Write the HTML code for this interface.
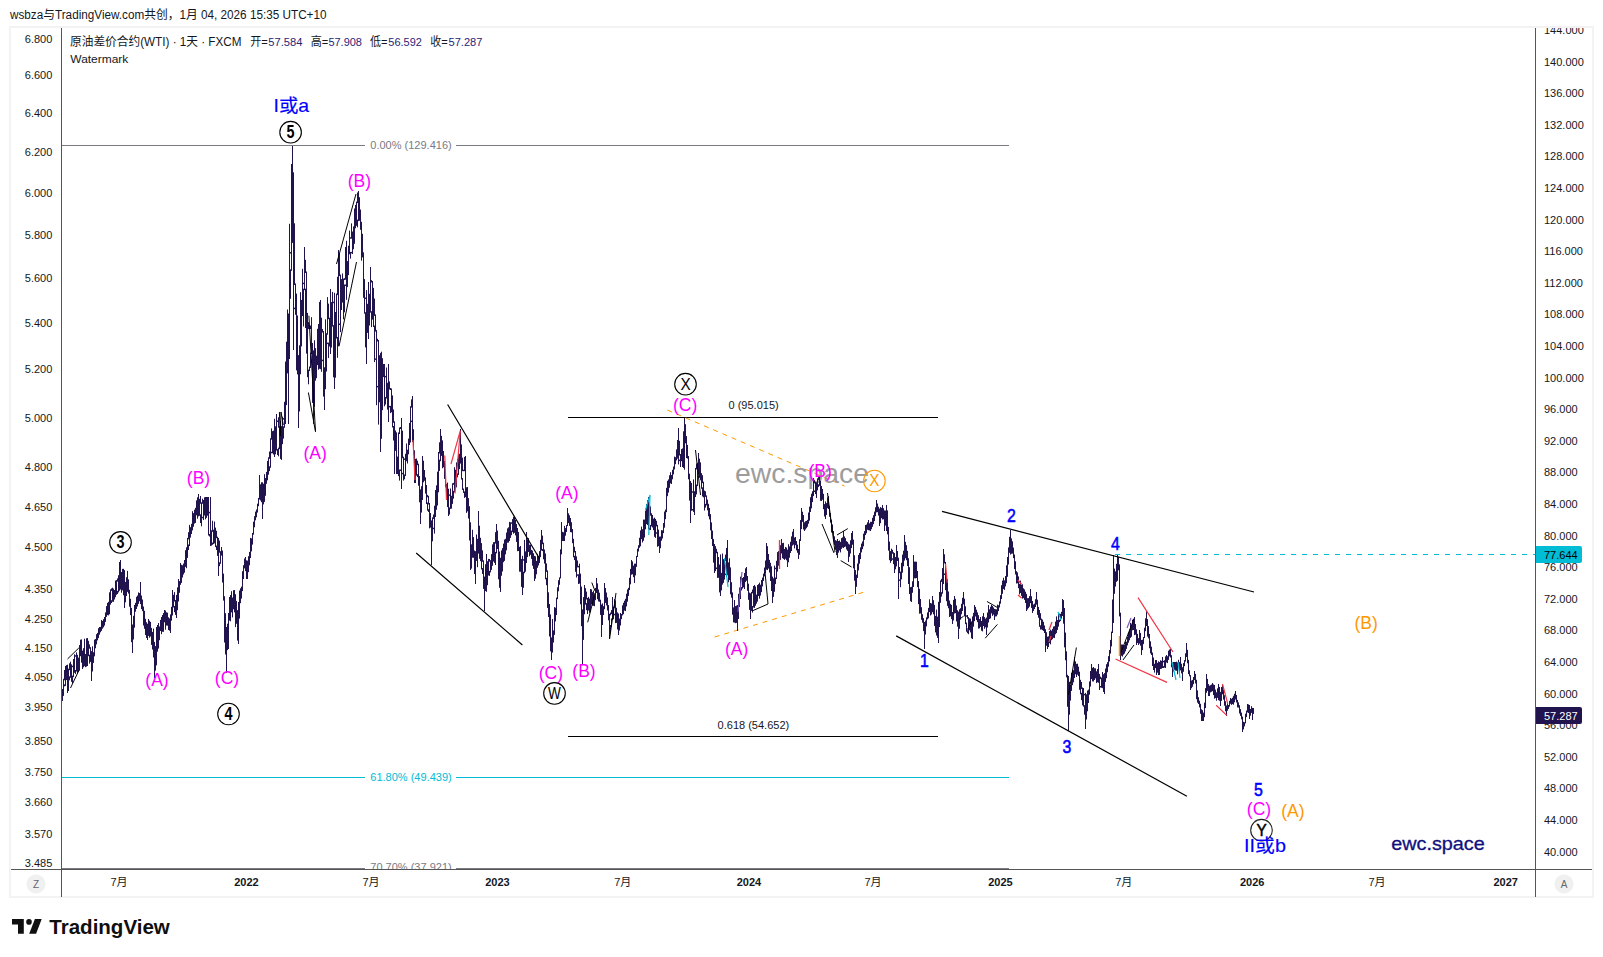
<!DOCTYPE html><html><head><meta charset="utf-8"><title>WTI</title><style>html,body{margin:0;padding:0;background:#fff;width:1603px;height:957px;overflow:hidden}svg text{white-space:pre}</style></head><body><svg width="1603" height="957" viewBox="0 0 1603 957" style="position:absolute;left:0;top:0"><text x="10" y="19" font-size="12" fill="#131722" textLength="316.5" lengthAdjust="spacingAndGlyphs" font-family="'Liberation Sans','Noto Sans CJK SC',sans-serif">wsbza与TradingView.com共创，1月 04, 2026 15:35 UTC+10</text><rect x="10" y="27" width="1583" height="870" fill="#fff" stroke="#f3f3f3" stroke-width="2"/><defs><clipPath id="pane"><rect x="62" y="28" width="1473" height="841"/></clipPath><clipPath id="raxis"><rect x="1536" y="28" width="56" height="841"/></clipPath></defs><line x1="61.5" y1="28" x2="61.5" y2="897" stroke="#555" stroke-width="1"/><line x1="1535.5" y1="28" x2="1535.5" y2="897" stroke="#555" stroke-width="1"/><line x1="11" y1="869.5" x2="1592" y2="869.5" stroke="#555" stroke-width="1"/><text x="52.3" y="43.0" font-size="11" text-anchor="end" fill="#131722" font-family="'Liberation Sans','Noto Sans CJK SC',sans-serif">6.800</text><text x="52.3" y="79.0" font-size="11" text-anchor="end" fill="#131722" font-family="'Liberation Sans','Noto Sans CJK SC',sans-serif">6.600</text><text x="52.3" y="117.0" font-size="11" text-anchor="end" fill="#131722" font-family="'Liberation Sans','Noto Sans CJK SC',sans-serif">6.400</text><text x="52.3" y="156.0" font-size="11" text-anchor="end" fill="#131722" font-family="'Liberation Sans','Noto Sans CJK SC',sans-serif">6.200</text><text x="52.3" y="197.0" font-size="11" text-anchor="end" fill="#131722" font-family="'Liberation Sans','Noto Sans CJK SC',sans-serif">6.000</text><text x="52.3" y="239.0" font-size="11" text-anchor="end" fill="#131722" font-family="'Liberation Sans','Noto Sans CJK SC',sans-serif">5.800</text><text x="52.3" y="282.0" font-size="11" text-anchor="end" fill="#131722" font-family="'Liberation Sans','Noto Sans CJK SC',sans-serif">5.600</text><text x="52.3" y="327.0" font-size="11" text-anchor="end" fill="#131722" font-family="'Liberation Sans','Noto Sans CJK SC',sans-serif">5.400</text><text x="52.3" y="373.3" font-size="11" text-anchor="end" fill="#131722" font-family="'Liberation Sans','Noto Sans CJK SC',sans-serif">5.200</text><text x="52.3" y="422.2" font-size="11" text-anchor="end" fill="#131722" font-family="'Liberation Sans','Noto Sans CJK SC',sans-serif">5.000</text><text x="52.3" y="471.4" font-size="11" text-anchor="end" fill="#131722" font-family="'Liberation Sans','Noto Sans CJK SC',sans-serif">4.800</text><text x="52.3" y="511.3" font-size="11" text-anchor="end" fill="#131722" font-family="'Liberation Sans','Noto Sans CJK SC',sans-serif">4.650</text><text x="52.3" y="551.0" font-size="11" text-anchor="end" fill="#131722" font-family="'Liberation Sans','Noto Sans CJK SC',sans-serif">4.500</text><text x="52.3" y="593.4" font-size="11" text-anchor="end" fill="#131722" font-family="'Liberation Sans','Noto Sans CJK SC',sans-serif">4.350</text><text x="52.3" y="622.5" font-size="11" text-anchor="end" fill="#131722" font-family="'Liberation Sans','Noto Sans CJK SC',sans-serif">4.250</text><text x="52.3" y="651.6" font-size="11" text-anchor="end" fill="#131722" font-family="'Liberation Sans','Noto Sans CJK SC',sans-serif">4.150</text><text x="52.3" y="681.0" font-size="11" text-anchor="end" fill="#131722" font-family="'Liberation Sans','Noto Sans CJK SC',sans-serif">4.050</text><text x="52.3" y="711.2" font-size="11" text-anchor="end" fill="#131722" font-family="'Liberation Sans','Noto Sans CJK SC',sans-serif">3.950</text><text x="52.3" y="744.6" font-size="11" text-anchor="end" fill="#131722" font-family="'Liberation Sans','Noto Sans CJK SC',sans-serif">3.850</text><text x="52.3" y="775.7" font-size="11" text-anchor="end" fill="#131722" font-family="'Liberation Sans','Noto Sans CJK SC',sans-serif">3.750</text><text x="52.3" y="805.8" font-size="11" text-anchor="end" fill="#131722" font-family="'Liberation Sans','Noto Sans CJK SC',sans-serif">3.660</text><text x="52.3" y="837.6" font-size="11" text-anchor="end" fill="#131722" font-family="'Liberation Sans','Noto Sans CJK SC',sans-serif">3.570</text><text x="52.3" y="867.0" font-size="11" text-anchor="end" fill="#131722" font-family="'Liberation Sans','Noto Sans CJK SC',sans-serif">3.485</text><g clip-path="url(#raxis)"><text x="1544" y="33.9" font-size="11" fill="#131722" font-family="'Liberation Sans','Noto Sans CJK SC',sans-serif">144.000</text><text x="1544" y="65.5" font-size="11" fill="#131722" font-family="'Liberation Sans','Noto Sans CJK SC',sans-serif">140.000</text><text x="1544" y="97.1" font-size="11" fill="#131722" font-family="'Liberation Sans','Noto Sans CJK SC',sans-serif">136.000</text><text x="1544" y="128.7" font-size="11" fill="#131722" font-family="'Liberation Sans','Noto Sans CJK SC',sans-serif">132.000</text><text x="1544" y="160.3" font-size="11" fill="#131722" font-family="'Liberation Sans','Noto Sans CJK SC',sans-serif">128.000</text><text x="1544" y="191.9" font-size="11" fill="#131722" font-family="'Liberation Sans','Noto Sans CJK SC',sans-serif">124.000</text><text x="1544" y="223.5" font-size="11" fill="#131722" font-family="'Liberation Sans','Noto Sans CJK SC',sans-serif">120.000</text><text x="1544" y="255.1" font-size="11" fill="#131722" font-family="'Liberation Sans','Noto Sans CJK SC',sans-serif">116.000</text><text x="1544" y="286.7" font-size="11" fill="#131722" font-family="'Liberation Sans','Noto Sans CJK SC',sans-serif">112.000</text><text x="1544" y="318.3" font-size="11" fill="#131722" font-family="'Liberation Sans','Noto Sans CJK SC',sans-serif">108.000</text><text x="1544" y="349.9" font-size="11" fill="#131722" font-family="'Liberation Sans','Noto Sans CJK SC',sans-serif">104.000</text><text x="1544" y="381.5" font-size="11" fill="#131722" font-family="'Liberation Sans','Noto Sans CJK SC',sans-serif">100.000</text><text x="1544" y="413.1" font-size="11" fill="#131722" font-family="'Liberation Sans','Noto Sans CJK SC',sans-serif">96.000</text><text x="1544" y="444.7" font-size="11" fill="#131722" font-family="'Liberation Sans','Noto Sans CJK SC',sans-serif">92.000</text><text x="1544" y="476.3" font-size="11" fill="#131722" font-family="'Liberation Sans','Noto Sans CJK SC',sans-serif">88.000</text><text x="1544" y="507.9" font-size="11" fill="#131722" font-family="'Liberation Sans','Noto Sans CJK SC',sans-serif">84.000</text><text x="1544" y="539.5" font-size="11" fill="#131722" font-family="'Liberation Sans','Noto Sans CJK SC',sans-serif">80.000</text><text x="1544" y="571.1" font-size="11" fill="#131722" font-family="'Liberation Sans','Noto Sans CJK SC',sans-serif">76.000</text><text x="1544" y="602.7" font-size="11" fill="#131722" font-family="'Liberation Sans','Noto Sans CJK SC',sans-serif">72.000</text><text x="1544" y="634.3" font-size="11" fill="#131722" font-family="'Liberation Sans','Noto Sans CJK SC',sans-serif">68.000</text><text x="1544" y="665.9" font-size="11" fill="#131722" font-family="'Liberation Sans','Noto Sans CJK SC',sans-serif">64.000</text><text x="1544" y="697.6" font-size="11" fill="#131722" font-family="'Liberation Sans','Noto Sans CJK SC',sans-serif">60.000</text><text x="1544" y="729.2" font-size="11" fill="#131722" font-family="'Liberation Sans','Noto Sans CJK SC',sans-serif">56.000</text><text x="1544" y="760.8" font-size="11" fill="#131722" font-family="'Liberation Sans','Noto Sans CJK SC',sans-serif">52.000</text><text x="1544" y="792.4" font-size="11" fill="#131722" font-family="'Liberation Sans','Noto Sans CJK SC',sans-serif">48.000</text><text x="1544" y="824.0" font-size="11" fill="#131722" font-family="'Liberation Sans','Noto Sans CJK SC',sans-serif">44.000</text><text x="1544" y="855.6" font-size="11" fill="#131722" font-family="'Liberation Sans','Noto Sans CJK SC',sans-serif">40.000</text></g><text x="119" y="886" font-size="11" font-weight="normal" text-anchor="middle" fill="#131722" font-family="'Liberation Sans','Noto Sans CJK SC',sans-serif">7月</text><text x="246.4" y="886" font-size="11" font-weight="bold" text-anchor="middle" fill="#131722" font-family="'Liberation Sans','Noto Sans CJK SC',sans-serif">2022</text><text x="371" y="886" font-size="11" font-weight="normal" text-anchor="middle" fill="#131722" font-family="'Liberation Sans','Noto Sans CJK SC',sans-serif">7月</text><text x="497.4" y="886" font-size="11" font-weight="bold" text-anchor="middle" fill="#131722" font-family="'Liberation Sans','Noto Sans CJK SC',sans-serif">2023</text><text x="622.8" y="886" font-size="11" font-weight="normal" text-anchor="middle" fill="#131722" font-family="'Liberation Sans','Noto Sans CJK SC',sans-serif">7月</text><text x="748.9" y="886" font-size="11" font-weight="bold" text-anchor="middle" fill="#131722" font-family="'Liberation Sans','Noto Sans CJK SC',sans-serif">2024</text><text x="873" y="886" font-size="11" font-weight="normal" text-anchor="middle" fill="#131722" font-family="'Liberation Sans','Noto Sans CJK SC',sans-serif">7月</text><text x="1000.4" y="886" font-size="11" font-weight="bold" text-anchor="middle" fill="#131722" font-family="'Liberation Sans','Noto Sans CJK SC',sans-serif">2025</text><text x="1123.8" y="886" font-size="11" font-weight="normal" text-anchor="middle" fill="#131722" font-family="'Liberation Sans','Noto Sans CJK SC',sans-serif">7月</text><text x="1252.2" y="886" font-size="11" font-weight="bold" text-anchor="middle" fill="#131722" font-family="'Liberation Sans','Noto Sans CJK SC',sans-serif">2026</text><text x="1377" y="886" font-size="11" font-weight="normal" text-anchor="middle" fill="#131722" font-family="'Liberation Sans','Noto Sans CJK SC',sans-serif">7月</text><text x="1505.7" y="886" font-size="11" font-weight="bold" text-anchor="middle" fill="#131722" font-family="'Liberation Sans','Noto Sans CJK SC',sans-serif">2027</text><circle cx="36" cy="884" r="9.5" fill="#f0f0f0"/><text x="36" y="888" font-size="10" text-anchor="middle" fill="#666" font-family="'Liberation Sans','Noto Sans CJK SC',sans-serif">Z</text><circle cx="1564" cy="884" r="9.5" fill="#f0f0f0"/><text x="1564" y="888" font-size="10" text-anchor="middle" fill="#666" font-family="'Liberation Sans','Noto Sans CJK SC',sans-serif">A</text><g clip-path="url(#pane)"><text x="70" y="46" font-size="12" fill="#131722" textLength="171.5" lengthAdjust="spacingAndGlyphs" font-family="'Liberation Sans','Noto Sans CJK SC',sans-serif">原油差价合约(WTI) · 1天 · FXCM</text><text x="250.3" y="46" font-size="12" fill="#131722" textLength="17.5" lengthAdjust="spacingAndGlyphs" font-family="'Liberation Sans','Noto Sans CJK SC',sans-serif">开=</text><text x="268.3" y="46" font-size="11.5" fill="#2a2478" textLength="34.2" lengthAdjust="spacingAndGlyphs" font-family="'Liberation Sans','Noto Sans CJK SC',sans-serif">57.584</text><text x="310.7" y="46" font-size="12" fill="#131722" textLength="17.5" lengthAdjust="spacingAndGlyphs" font-family="'Liberation Sans','Noto Sans CJK SC',sans-serif">高=</text><text x="328.4" y="46" font-size="11.5" fill="#2a2478" textLength="33.6" lengthAdjust="spacingAndGlyphs" font-family="'Liberation Sans','Noto Sans CJK SC',sans-serif">57.908</text><text x="370" y="46" font-size="12" fill="#131722" textLength="17.5" lengthAdjust="spacingAndGlyphs" font-family="'Liberation Sans','Noto Sans CJK SC',sans-serif">低=</text><text x="388.3" y="46" font-size="11.5" fill="#2a2478" textLength="33.6" lengthAdjust="spacingAndGlyphs" font-family="'Liberation Sans','Noto Sans CJK SC',sans-serif">56.592</text><text x="430.3" y="46" font-size="12" fill="#131722" textLength="17.5" lengthAdjust="spacingAndGlyphs" font-family="'Liberation Sans','Noto Sans CJK SC',sans-serif">收=</text><text x="448.5" y="46" font-size="11.5" fill="#2a2478" textLength="33.9" lengthAdjust="spacingAndGlyphs" font-family="'Liberation Sans','Noto Sans CJK SC',sans-serif">57.287</text><text x="70.3" y="63" font-size="11" fill="#131722" textLength="58" lengthAdjust="spacingAndGlyphs" font-family="'Liberation Sans','Noto Sans CJK SC',sans-serif">Watermark</text><path d="M62 145.5H365M456 145.5H1009" stroke="#787b86" stroke-width="1"/><text x="411" y="149" font-size="11" text-anchor="middle" fill="#787b86" font-family="'Liberation Sans','Noto Sans CJK SC',sans-serif">0.00% (129.416)</text><path d="M62 777.5H365M456 777.5H1009" stroke="#00bcd4" stroke-width="1"/><text x="411" y="781" font-size="11" text-anchor="middle" fill="#00bcd4" font-family="'Liberation Sans','Noto Sans CJK SC',sans-serif">61.80% (49.439)</text><path d="M62 868.5H365M456 868.5H1009" stroke="#787b86" stroke-width="1"/><text x="411" y="871" font-size="11" text-anchor="middle" fill="#787b86" font-family="'Liberation Sans','Noto Sans CJK SC',sans-serif">70.70% (37.921)</text><path d="M568 417.5H938M568 736.5H938" stroke="#000" stroke-width="1"/><text x="753.6" y="409" font-size="11" text-anchor="middle" fill="#131722" font-family="'Liberation Sans','Noto Sans CJK SC',sans-serif">0 (95.015)</text><text x="753.4" y="728.5" font-size="11" text-anchor="middle" fill="#131722" font-family="'Liberation Sans','Noto Sans CJK SC',sans-serif">0.618 (54.652)</text><path d="M1115 554.5H1535" stroke="#00bcd4" stroke-width="1" stroke-dasharray="5 6"/><path d="M667.3 410L844.5 486M714.7 637L867 591.2" stroke="#ff9800" stroke-width="1" stroke-dasharray="5 5"/><text x="735" y="483.3" font-size="28" fill="#9c9c9c" textLength="134" lengthAdjust="spacingAndGlyphs" font-family="'Liberation Sans','Noto Sans CJK SC',sans-serif">ewc.space</text><path d="M62.5 689.0V701.0M63.5 678.8V695.9M64.5 670.0V680.3M64.5 684.4V686.4M65.5 665.9V685.9M66.5 665.1V680.0M67.5 664.7V693.0M68.5 668.7V691.0M69.5 663.3V670.2M69.5 676.3V680.3M70.5 661.7V677.8M71.5 664.3V681.8M72.5 665.7V667.2M72.5 675.6V683.3M73.5 659.0V677.1M74.5 654.3V672.8M75.5 655.2V656.7M75.5 670.0V674.0M76.5 652.4V671.5M77.5 654.8V673.8M78.5 657.7V671.9M79.5 645.0V670.7M80.5 639.7V656.2M81.5 639.4V662.7M82.5 650.6V669.0M83.5 648.2V667.3M84.5 638.7V666.1M85.5 654.0V667.2M86.5 638.3V666.6M87.5 638.0V666.0M88.5 640.8V656.2M89.5 644.4V648.7M89.5 654.7V663.6M90.5 647.2V661.9M91.5 651.1V681.0M92.5 646.3V671.5M93.5 652.2V662.9M94.5 639.7V656.3M95.5 639.0V648.3M96.5 634.2V644.4M97.5 632.9V640.4M98.5 628.2V638.1M99.5 627.0V634.7M100.5 626.9V632.3M101.5 620.0V630.9M102.5 620.9V628.7M103.5 619.2V627.4M104.5 617.0V625.6M105.5 612.4V621.9M106.5 606.1V616.9M107.5 602.9V615.1M108.5 601.8V615.4M109.5 592.3V614.3M110.5 589.4V604.7M111.5 588.4V590.9M111.5 600.2V603.0M112.5 587.7V601.7M113.5 588.6V601.9M114.5 590.0V599.5M115.5 580.5V597.2M116.5 580.1V594.8M117.5 578.4V581.6M117.5 590.9V594.0M118.5 575.2V592.4M119.5 562.0V590.8M120.5 560.0V589.5M121.5 572.0V592.7M122.5 568.9V590.4M123.5 568.8V595.3M124.5 570.1V608.0M125.5 581.9V602.3M126.5 577.2V596.0M127.5 570.9V591.9M128.5 579.3V593.6M129.5 589.8V606.7M130.5 598.8V615.1M131.5 607.9V642.2M132.5 624.5V653.0M133.5 615.8V639.5M134.5 605.0V627.7M135.5 602.8V611.7M136.5 596.8V609.0M137.5 595.5V606.5M138.5 592.4V603.9M139.5 593.0V601.3M140.5 582.0V604.1M141.5 595.5V609.1M142.5 599.5V611.1M143.5 606.5V625.5M144.5 610.8V628.8M145.5 618.8V635.0M146.5 622.2V638.0M147.5 623.7V640.0M148.5 619.0V635.9M149.5 620.7V637.7M150.5 621.9V636.5M151.5 627.9V644.9M152.5 631.9V649.5M153.5 628.6V657.5M154.5 641.9V678.0M155.5 646.1V670.7M156.5 627.0V665.4M157.5 625.0V651.7M158.5 623.0V648.6M159.5 626.5V640.2M160.5 619.9V631.0M161.5 617.0V634.2M162.5 615.0V631.8M163.5 613.0V631.8M164.5 610.0V622.3M165.5 610.5V629.7M166.5 612.3V625.5M167.5 612.7V625.7M168.5 617.3V630.0M169.5 618.4V630.7M170.5 614.4V633.0M171.5 606.8V620.7M172.5 590.0V615.5M173.5 594.8V607.5M174.5 592.1V601.5M174.5 606.0V612.2M175.5 600.0V614.9M176.5 594.9V618.0M177.5 587.4V610.2M178.5 579.0V601.5M179.5 581.1V592.8M180.5 563.0V584.8M181.5 564.8V582.9M182.5 565.3V577.5M183.5 563.6V574.5M184.5 560.0V572.7M185.5 550.2V566.9M186.5 547.3V568.2M187.5 537.9V557.9M188.5 532.2V539.4M188.5 544.5V550.0M189.5 524.9V546.0M190.5 527.2V537.6M191.5 523.8V534.0M192.5 511.2V530.4M193.5 513.1V526.8M194.5 509.7V523.6M195.5 507.8V522.9M196.5 500.4V515.3M197.5 497.3V518.7M198.5 494.0V516.4M199.5 498.8V515.8M200.5 496.0V503.8M200.5 514.3V523.0M201.5 502.3V526.3M202.5 498.7V503.8M202.5 516.8V518.3M203.5 500.0V520.0M204.5 497.3V515.5M205.5 497.0V519.3M206.5 497.0V517.9M207.5 497.0V515.7M208.5 497.0V535.5M209.5 511.8V513.3M209.5 534.0V536.5M210.5 497.0V546.0M211.5 530.3V545.6M212.5 520.7V531.8M212.5 542.6V544.8M213.5 529.7V544.1M214.5 521.5V543.4M215.5 527.6V547.1M216.5 530.8V538.2M216.5 545.6V550.0M217.5 536.7V555.9M218.5 538.0V576.0M219.5 540.6V552.7M219.5 562.3V566.2M220.5 551.2V563.8M221.5 547.0V555.6M222.5 550.5V582.5M223.5 573.6V600.6M224.5 596.2V642.5M225.5 613.2V654.5M226.5 627.0V673.0M227.5 623.7V650.1M228.5 613.0V649.0M229.5 597.0V620.6M230.5 595.0V621.3M231.5 591.2V612.4M232.5 597.5V617.4M233.5 590.2V609.3M234.5 590.0V612.4M235.5 594.2V627.1M236.5 600.9V623.8M237.5 610.1V640.6M238.5 602.0V644.0M239.5 590.5V618.6M240.5 588.3V603.2M241.5 586.6V598.6M242.5 571.2V591.1M243.5 565.2V579.0M244.5 558.5V568.4M245.5 557.0V571.1M246.5 560.3V579.0M247.5 560.6V579.0M248.5 556.2V572.2M249.5 551.9V565.3M250.5 537.9V558.1M251.5 538.4V551.4M252.5 532.9V544.6M253.5 521.7V534.7M254.5 516.2V527.3M255.5 511.6V520.3M256.5 509.5V517.3M257.5 503.7V512.6M258.5 497.9V506.2M259.5 475.0V499.5M260.5 484.3V500.5M261.5 482.3V502.2M262.5 482.3V519.0M263.5 483.7V504.4M264.5 474.2V501.9M265.5 478.0V495.8M266.5 471.9V483.8M267.5 460.9V480.3M268.5 457.3V474.7M269.5 451.5V458.8M269.5 466.3V471.1M270.5 438.2V467.8M271.5 428.4V439.7M271.5 451.8V453.3M272.5 431.1V453.3M273.5 430.7V454.5M274.5 418.8V457.0M275.5 426.3V454.3M276.5 414.0V450.6M277.5 420.5V422.0M277.5 449.1V455.0M278.5 417.3V427.7M278.5 447.7V456.3M279.5 426.2V449.2M280.5 420.8V458.9M281.5 426.1V460.0M282.5 416.7V444.2M283.5 418.1V419.6M283.5 426.3V438.6M284.5 401.8V427.8M285.5 361.6V424.0M286.5 341.7V405.1M287.5 309.5V373.4M288.5 313.5V424.0M289.5 223.8V359.0M290.5 252.1V253.6M290.5 269.3V298.8M291.5 164.0V270.8M292.5 146.0V242.9M293.5 172.3V350.0M294.5 223.3V285.0M294.5 307.7V309.2M295.5 283.5V314.8M296.5 293.6V370.4M297.5 315.5V374.4M298.5 355.1V428.0M299.5 345.3V411.5M300.5 292.2V374.3M301.5 299.9V346.4M302.5 268.8V316.0M303.5 282.7V284.2M303.5 288.7V326.5M304.5 247.0V290.2M305.5 259.8V273.0M305.5 288.7V328.0M306.5 271.5V353.6M307.5 312.9V377.2M308.5 322.1V329.1M308.5 369.6V384.3M309.5 327.6V329.1M309.5 366.5V371.1M310.5 325.5V329.1M310.5 352.5V368.0M311.5 317.2V354.0M312.5 343.0V402.9M313.5 350.4V424.0M314.5 340.3V406.8M315.5 348.1V380.7M316.5 355.7V378.2M317.5 328.8V365.1M318.5 324.0V369.7M319.5 301.9V368.8M320.5 300.0V369.2M321.5 317.7V371.8M322.5 329.0V332.5M322.5 359.7V361.2M323.5 331.0V396.6M324.5 367.3V410.0M325.5 319.3V389.2M326.5 333.2V371.5M327.5 297.1V334.7M327.5 342.6V344.1M328.5 303.7V319.2M328.5 342.6V358.1M329.5 317.7V346.5M330.5 289.0V354.0M331.5 302.1V347.6M332.5 291.9V326.6M333.5 301.7V303.2M333.5 325.1V377.3M334.5 292.8V389.0M335.5 312.0V377.7M336.5 293.6V338.5M337.5 276.8V295.1M337.5 337.0V357.8M338.5 250.0V346.1M339.5 253.5V276.1M339.5 323.5V325.0M340.5 274.6V332.1M341.5 279.1V310.0M342.5 273.5V302.6M343.5 278.6V319.3M344.5 278.2V280.1M344.5 284.5V312.3M345.5 247.0V279.7M345.5 284.5V286.0M346.5 240.8V299.8M347.5 261.1V287.1M348.5 245.7V275.1M349.5 230.6V254.3M350.5 237.2V238.7M350.5 251.9V258.6M351.5 223.4V238.7M351.5 251.9V253.4M352.5 231.5V254.0M353.5 226.4V249.2M354.5 208.5V243.8M355.5 204.9V228.3M356.5 201.6V225.8M357.5 192.5V203.1M357.5 219.6V227.3M358.5 191.0V221.1M359.5 197.2V220.8M360.5 209.5V229.8M361.5 221.8V260.7M362.5 233.8V257.4M363.5 252.3V297.8M364.5 279.1V313.7M365.5 297.5V299.0M365.5 312.2V347.4M366.5 290.1V364.0M367.5 303.8V332.9M368.5 282.0V339.0M369.5 293.8V325.5M370.5 267.0V312.7M371.5 280.1V282.5M371.5 311.2V327.1M372.5 281.0V319.6M373.5 287.9V327.0M374.5 298.6V315.9M374.5 325.5V362.1M375.5 314.4V331.6M375.5 358.4V359.9M376.5 330.1V405.2M377.5 338.7V341.5M377.5 385.9V387.4M378.5 340.0V424.6M379.5 355.2V402.3M380.5 352.9V452.0M381.5 351.7V438.8M382.5 358.2V410.2M383.5 364.0V377.1M384.5 364.0V406.3M385.5 375.9V377.4M385.5 397.0V404.5M386.5 367.5V398.5M387.5 382.8V409.6M388.5 364.0V422.0M389.5 381.4V389.5M389.5 405.9V407.4M390.5 388.0V390.0M390.5 405.9V413.1M391.5 388.5V412.3M392.5 395.4V427.5M393.5 409.5V422.8M393.5 426.0V440.5M394.5 421.3V474.0M395.5 430.5V450.9M396.5 432.3V474.0M397.5 456.6V474.0M398.5 432.5V476.2M399.5 427.5V434.0M399.5 469.5V480.6M400.5 427.0V429.0M400.5 469.5V471.0M401.5 418.0V489.0M402.5 430.7V458.2M402.5 472.8V474.3M403.5 456.7V480.6M404.5 458.4V459.9M404.5 474.5V479.3M405.5 453.8V476.0M406.5 443.5V461.2M407.5 449.7V463.5M408.5 438.6V454.3M409.5 422.9V445.0M410.5 406.2V442.5M411.5 399.4V407.7M411.5 420.6V422.1M412.5 396.0V441.9M413.5 429.2V454.6M414.5 450.3V483.0M415.5 458.8V483.0M416.5 458.5V475.7M417.5 460.7V465.2M417.5 474.2V477.1M418.5 463.7V485.7M419.5 476.0V502.3M420.5 489.4V524.0M421.5 486.2V512.6M422.5 456.0V500.0M423.5 460.7V482.3M424.5 470.0V480.8M425.5 477.3V493.6M426.5 485.0V504.0M427.5 494.9V497.3M427.5 502.5V510.7M428.5 495.8V504.5M428.5 509.2V512.0M429.5 503.0V528.4M430.5 513.0V527.6M431.5 520.4V565.0M432.5 517.4V541.3M433.5 514.5V518.9M433.5 527.7V529.2M434.5 505.7V533.6M435.5 490.0V517.0M436.5 485.3V509.8M437.5 471.7V505.5M438.5 452.0V492.3M439.5 442.3V453.5M439.5 459.7V470.9M440.5 429.0V461.2M441.5 435.8V455.9M442.5 440.4V468.3M443.5 451.0V467.3M444.5 461.0V478.9M445.5 472.4V487.4M446.5 483.9V497.7M447.5 482.6V507.1M448.5 488.7V516.0M449.5 494.4V495.9M449.5 507.4V514.5M450.5 488.5V508.9M451.5 495.8V508.6M452.5 483.3V503.9M453.5 482.9V484.8M453.5 490.8V498.7M454.5 467.2V492.3M455.5 469.7V488.6M456.5 462.4V487.3M457.5 459.0V463.9M457.5 473.4V477.4M458.5 453.6V474.9M459.5 453.8V469.1M460.5 429.0V463.6M461.5 444.4V479.5M462.5 457.6V471.2M462.5 478.0V490.0M463.5 469.7V471.2M463.5 488.5V492.9M464.5 456.9V471.2M464.5 491.4V497.9M465.5 456.0V497.1M466.5 487.3V512.9M467.5 487.0V511.4M468.5 498.1V518.5M469.5 506.2V540.5M470.5 522.3V570.0M471.5 544.3V568.6M472.5 529.8V557.7M473.5 537.1V557.8M474.5 550.5V574.0M475.5 551.2V584.0M476.5 534.5V560.9M477.5 538.8V567.2M478.5 511.0V553.6M479.5 525.7V558.8M480.5 537.8V561.2M481.5 543.1V569.5M482.5 550.3V561.8M482.5 568.0V573.9M483.5 560.3V588.9M484.5 576.6V611.0M485.5 564.2V591.1M486.5 554.0V591.8M487.5 561.2V585.2M488.5 558.9V575.5M489.5 559.0V561.7M489.5 570.9V575.9M490.5 560.2V572.4M491.5 554.1V569.9M492.5 544.4V565.8M493.5 542.2V561.5M494.5 542.1V562.9M495.5 532.2V543.6M495.5 551.9V565.0M496.5 524.0V553.4M497.5 530.6V549.0M498.5 540.8V579.3M499.5 551.5V587.8M500.5 557.8V592.0M501.5 550.4V575.8M502.5 548.1V571.5M503.5 543.6V562.2M504.5 539.6V560.9M505.5 538.8V554.4M506.5 532.6V550.3M507.5 528.4V542.7M508.5 527.3V542.6M509.5 521.9V540.9M510.5 522.3V537.9M511.5 522.3V523.8M511.5 530.6V535.2M512.5 519.1V532.1M513.5 516.7V533.7M514.5 516.0V532.9M515.5 520.0V535.4M516.5 524.0V541.9M517.5 528.0V551.2M518.5 532.0V551.0M519.5 546.9V571.7M520.5 546.0V571.8M521.5 559.0V586.9M522.5 555.8V595.0M523.5 559.2V560.7M523.5 571.7V587.8M524.5 539.9V573.2M525.5 551.4V571.7M526.5 532.0V563.0M527.5 539.4V557.1M528.5 538.1V552.0M529.5 544.7V556.3M530.5 545.0V554.8M531.5 549.9V558.9M532.5 550.6V565.7M533.5 553.2V568.9M534.5 555.9V581.0M535.5 556.3V578.7M536.5 560.9V574.3M537.5 553.8V567.8M538.5 555.8V565.5M539.5 551.1V563.0M540.5 539.8V557.1M541.5 530.0V550.6M542.5 535.6V544.2M542.5 549.1V551.1M543.5 542.7V559.3M544.5 549.5V563.6M545.5 553.5V579.3M546.5 563.4V571.9M546.5 577.8V585.2M547.5 570.4V607.9M548.5 592.3V617.0M549.5 604.0V636.5M550.5 614.4V651.4M551.5 637.4V660.0M552.5 619.0V652.6M553.5 630.4V642.5M554.5 607.1V634.9M555.5 607.7V621.4M556.5 597.6V615.0M557.5 587.3V599.2M558.5 580.2V591.3M559.5 577.4V584.8M560.5 549.3V578.4M561.5 522.0V554.4M562.5 531.8V541.0M563.5 532.3V541.0M564.5 525.9V541.0M565.5 528.1V535.7M566.5 525.0V532.0M567.5 508.0V526.1M568.5 513.3V523.1M569.5 515.3V525.9M570.5 518.0V532.1M571.5 522.2V532.4M572.5 529.0V543.2M573.5 538.8V557.3M574.5 546.8V552.5M574.5 555.8V560.1M575.5 551.0V571.8M576.5 556.3V577.5M577.5 560.5V567.4M577.5 574.3V575.8M578.5 565.9V567.4M578.5 574.3V584.0M579.5 563.7V583.6M580.5 573.6V604.3M581.5 586.6V626.2M582.5 609.4V664.0M583.5 597.1V639.9M584.5 585.0V614.3M585.5 588.1V604.6M586.5 591.6V599.5M586.5 603.1V610.2M587.5 598.0V614.0M588.5 596.9V610.5M589.5 598.6V612.8M590.5 589.0V612.2M591.5 589.4V604.4M592.5 592.1V605.8M593.5 590.7V605.8M594.5 595.9V606.2M595.5 587.9V600.2M596.5 578.0V593.0M597.5 583.4V599.2M598.5 589.5V601.4M599.5 592.7V601.8M600.5 599.7V614.9M601.5 604.5V637.0M602.5 603.4V625.0M603.5 606.2V615.0M604.5 583.0V609.2M605.5 588.0V602.9M606.5 592.5V605.4M607.5 597.4V610.5M608.5 605.1V620.3M609.5 613.8V639.0M610.5 612.6V615.3M610.5 625.0V633.1M611.5 610.1V614.1M611.5 618.5V626.5M612.5 597.0V620.0M613.5 606.6V619.3M614.5 599.1V608.1M614.5 613.8V615.3M615.5 600.4V623.1M616.5 607.8V622.9M617.5 612.4V629.5M618.5 613.5V635.0M619.5 618.6V630.5M620.5 613.0V625.5M621.5 614.0V619.2M622.5 605.3V615.4M623.5 602.8V614.2M624.5 600.7V610.6M625.5 598.8V611.1M626.5 593.7V606.4M627.5 589.4V601.7M628.5 587.8V595.9M629.5 577.8V590.1M630.5 568.9V584.3M631.5 560.0V574.7M632.5 561.4V574.3M633.5 565.6V577.2M634.5 563.7V583.0M635.5 563.6V575.4M636.5 555.9V566.9M637.5 548.7V557.0M638.5 545.2V551.5M639.5 537.8V547.8M640.5 530.4V546.3M641.5 526.6V539.2M642.5 529.2V542.5M643.5 519.6V540.8M644.5 519.6V537.5M645.5 510.6V529.3M646.5 504.1V524.1M647.5 500.2V525.0M648.5 497.0V529.3M649.5 514.2V515.7M649.5 527.8V530.0M650.5 506.4V515.7M650.5 524.9V530.0M651.5 513.3V526.4M652.5 515.0V527.5M653.5 518.6V530.2M654.5 517.6V536.8M655.5 518.9V537.9M656.5 520.8V526.4M656.5 532.3V533.8M657.5 524.9V546.8M658.5 529.6V546.1M659.5 536.6V553.0M660.5 536.5V548.2M661.5 530.1V540.7M662.5 530.4V538.5M663.5 523.0V533.1M664.5 511.5V527.7M665.5 509.6V519.2M666.5 487.8V512.2M667.5 480.8V496.2M668.5 479.4V492.6M669.5 475.3V487.8M670.5 472.2V483.4M671.5 475.0V484.0M672.5 469.8V479.3M673.5 466.6V474.4M674.5 456.6V469.4M675.5 457.2V464.2M676.5 449.4V460.4M677.5 440.0V458.6M678.5 428.0V464.4M679.5 440.8V455.5M679.5 459.6V461.1M680.5 454.0V467.0M681.5 449.1V461.2M682.5 448.4V467.0M683.5 431.3V467.9M684.5 418.0V469.7M685.5 424.2V443.3M686.5 436.1V458.0M687.5 444.9V458.7M688.5 456.0V479.3M689.5 473.7V500.6M690.5 481.0V523.0M691.5 482.9V510.8M692.5 491.3V492.8M692.5 509.0V510.5M693.5 479.4V511.9M694.5 491.2V515.0M695.5 467.9V497.0M696.5 463.6V469.4M696.5 484.6V494.4M697.5 462.8V486.1M698.5 453.0V474.5M699.5 458.7V477.8M700.5 462.4V480.3M701.5 473.1V488.8M702.5 475.2V483.2M702.5 487.3V496.5M703.5 481.7V497.4M704.5 490.6V510.5M705.5 491.3V496.9M705.5 503.9V507.6M706.5 495.4V505.4M707.5 499.6V510.3M708.5 503.8V516.3M709.5 507.9V519.4M710.5 514.1V530.4M711.5 522.4V539.0M712.5 530.6V546.0M713.5 538.9V562.7M714.5 544.0V573.0M715.5 546.1V571.1M716.5 548.8V553.3M716.5 567.5V569.0M717.5 551.8V577.9M718.5 557.0V577.8M719.5 564.5V592.4M720.5 554.4V596.0M721.5 572.9V590.4M722.5 553.5V584.6M723.5 559.2V582.9M724.5 559.5V579.6M725.5 554.6V561.0M725.5 573.6V575.1M726.5 547.9V576.9M727.5 540.0V575.3M728.5 562.4V582.3M729.5 558.3V580.1M730.5 567.4V594.3M731.5 582.2V597.7M732.5 592.4V614.7M733.5 607.4V622.4M734.5 600.0V622.6M735.5 606.1V623.2M736.5 605.6V622.9M737.5 605.0V631.0M738.5 593.8V619.0M739.5 587.5V607.0M740.5 576.7V599.0M741.5 577.6V579.5M741.5 587.1V590.5M742.5 578.0V588.6M743.5 577.0V587.4M744.5 573.0V589.0M745.5 568.3V582.1M746.5 567.0V580.8M747.5 576.0V590.8M748.5 583.7V599.8M749.5 592.6V609.9M750.5 593.3V619.0M751.5 591.9V610.9M752.5 589.5V593.4M752.5 606.0V612.6M753.5 586.0V607.5M754.5 585.0V607.9M755.5 586.5V605.8M756.5 594.6V603.7M757.5 585.0V601.6M758.5 584.1V596.0M759.5 582.7V598.7M760.5 584.7V595.6M761.5 580.0V592.1M762.5 577.6V586.4M763.5 573.6V580.9M764.5 567.5V576.3M765.5 560.5V573.0M766.5 543.0V569.7M767.5 546.2V570.1M768.5 554.0V568.6M769.5 559.9V572.5M770.5 562.8V581.0M771.5 566.3V591.0M772.5 576.6V603.0M773.5 578.3V596.9M774.5 565.6V591.8M775.5 567.7V569.2M775.5 577.5V584.1M776.5 560.8V579.0M777.5 552.1V571.6M778.5 551.1V565.7M779.5 547.8V552.6M779.5 558.4V562.6M780.5 545.2V559.9M781.5 539.0V553.5M782.5 543.1V558.2M783.5 542.8V558.9M784.5 549.0V559.9M785.5 547.0V558.8M786.5 547.6V560.3M787.5 549.6V567.0M788.5 544.2V562.3M789.5 546.4V557.7M790.5 541.8V553.0M791.5 536.4V551.0M792.5 531.7V545.6M793.5 529.0V544.7M794.5 537.5V548.4M795.5 537.0V545.2M796.5 541.0V550.4M797.5 544.6V552.8M798.5 549.0V559.0M799.5 539.2V554.8M800.5 520.1V541.0M801.5 508.0V529.1M802.5 511.7V521.9M803.5 515.0V529.5M804.5 522.3V531.0M805.5 521.2V529.5M806.5 520.9V528.2M807.5 519.9V526.7M808.5 512.5V523.7M809.5 506.7V520.7M810.5 497.3V512.0M811.5 493.7V508.4M812.5 491.2V502.1M813.5 478.0V496.1M814.5 479.8V483.4M814.5 490.5V492.0M815.5 481.9V494.1M816.5 482.4V498.0M817.5 478.4V490.4M818.5 477.1V479.9M818.5 484.3V487.1M819.5 476.0V485.8M820.5 480.8V500.8M821.5 486.0V501.0M822.5 489.0V499.7M823.5 493.8V509.2M824.5 504.1V516.5M825.5 501.4V519.0M826.5 503.1V515.0M827.5 497.4V508.2M828.5 496.0V509.1M829.5 505.9V516.8M830.5 513.1V522.6M831.5 519.7V532.5M832.5 524.4V532.6M833.5 531.0V541.4M834.5 536.3V544.9M835.5 540.2V549.8M836.5 540.7V555.1M837.5 539.0V558.0M838.5 541.0V552.7M839.5 540.5V550.5M840.5 541.9V552.4M841.5 538.1V548.9M842.5 537.4V547.5M843.5 531.0V548.0M844.5 536.4V547.0M845.5 538.1V546.6M846.5 541.1V549.4M847.5 541.9V550.9M848.5 543.6V562.0M849.5 544.5V556.8M850.5 540.3V553.5M851.5 533.0V548.1M852.5 531.0V544.7M853.5 539.6V568.3M854.5 555.3V580.7M855.5 570.1V594.0M856.5 574.7V586.8M857.5 563.5V577.9M858.5 554.9V570.4M859.5 552.9V563.7M860.5 547.4V559.1M861.5 543.6V552.4M862.5 541.4V549.2M863.5 533.7V546.4M864.5 531.1V539.8M865.5 525.0V535.1M866.5 524.5V533.3M867.5 522.4V529.8M868.5 520.0V530.2M869.5 523.3V530.5M870.5 521.8V531.0M871.5 521.8V529.2M872.5 517.8V526.8M873.5 515.2V524.2M874.5 511.6V521.1M875.5 507.3V516.2M876.5 500.0V512.4M877.5 503.5V512.2M878.5 506.7V515.6M879.5 508.6V526.0M880.5 507.1V523.2M881.5 507.8V518.2M882.5 505.0V519.5M883.5 508.2V519.3M884.5 510.4V531.0M885.5 510.5V525.6M886.5 505.0V531.0M887.5 510.4V534.4M888.5 526.9V550.6M889.5 541.6V560.2M890.5 551.1V562.8M891.5 548.7V561.0M892.5 549.8V553.7M892.5 558.3V559.8M893.5 552.2V564.2M894.5 553.0V573.0M895.5 557.0V569.3M896.5 545.0V566.4M897.5 551.0V561.0M898.5 557.7V599.0M899.5 567.0V573.2M899.5 579.4V580.9M900.5 571.7V587.2M901.5 562.8V579.4M902.5 554.6V572.7M903.5 550.7V566.3M904.5 535.0V560.6M905.5 541.8V558.3M906.5 545.2V560.2M907.5 550.8V566.0M908.5 558.2V584.0M909.5 567.2V594.0M910.5 587.1V601.2M911.5 586.8V602.0M912.5 581.3V592.8M913.5 555.0V587.0M914.5 561.6V578.3M915.5 561.6V578.4M916.5 561.8V578.0M917.5 571.0V587.1M918.5 581.0V604.2M919.5 588.8V613.7M920.5 599.0V613.5M921.5 607.2V619.8M922.5 614.2V622.7M923.5 618.1V631.1M924.5 622.0V649.0M925.5 620.6V634.5M926.5 617.3V626.4M927.5 612.4V619.4M928.5 607.9V618.3M929.5 599.3V612.0M930.5 603.0V615.5M931.5 603.4V614.5M932.5 596.0V612.2M933.5 600.2V614.3M934.5 604.8V625.9M935.5 615.9V632.4M936.5 609.6V635.5M937.5 616.6V637.9M938.5 601.8V643.0M939.5 592.0V627.0M940.5 580.4V602.8M941.5 578.9V581.9M941.5 592.2V596.6M942.5 568.1V593.7M943.5 549.0V584.1M944.5 554.3V563.4M944.5 573.5V575.0M945.5 561.9V590.2M946.5 575.6V601.2M947.5 579.3V605.9M948.5 591.5V608.3M949.5 600.5V617.0M950.5 603.8V616.3M951.5 604.9V619.1M952.5 612.0V624.0M953.5 599.9V620.5M954.5 596.0V613.5M955.5 598.8V613.2M956.5 605.5V621.4M957.5 610.2V626.6M958.5 611.6V639.0M959.5 609.3V628.8M960.5 608.2V619.7M961.5 603.8V614.3M962.5 597.8V611.0M963.5 592.0V604.4M964.5 598.7V616.4M965.5 606.3V624.1M966.5 615.3V616.8M966.5 622.6V631.7M967.5 615.0V618.6M967.5 630.2V633.2M968.5 617.1V634.2M969.5 618.3V630.3M970.5 618.6V632.4M971.5 622.1V638.3M972.5 616.4V639.0M973.5 612.9V626.7M974.5 605.0V621.2M975.5 606.9V616.5M976.5 609.7V620.1M977.5 612.4V622.2M978.5 615.2V628.6M979.5 619.0V628.3M980.5 617.0V626.9M981.5 621.0V630.7M982.5 616.3V631.4M983.5 613.0V626.0M984.5 617.1V628.8M985.5 618.7V627.3M986.5 617.5V635.0M987.5 612.5V627.5M988.5 605.0V622.5M989.5 609.3V619.1M990.5 606.8V618.4M991.5 605.0V613.4M992.5 606.0V615.9M993.5 607.4V614.7M994.5 608.9V620.0M995.5 609.2V616.5M996.5 609.3V616.3M997.5 604.6V614.6M998.5 605.2V611.1M999.5 601.4V607.5M1000.5 595.2V603.7M1001.5 585.2V599.0M1002.5 580.6V593.8M1003.5 577.8V589.1M1004.5 580.4V589.9M1005.5 576.0V586.4M1006.5 565.3V583.2M1007.5 557.0V576.8M1008.5 547.4V564.5M1009.5 536.8V552.8M1010.5 530.0V554.5M1011.5 538.4V553.8M1012.5 541.3V553.6M1013.5 547.6V558.1M1014.5 554.5V569.1M1015.5 561.3V574.5M1016.5 571.2V583.5M1017.5 572.4V583.3M1018.5 576.4V588.2M1019.5 583.9V594.4M1020.5 580.6V593.0M1021.5 584.9V595.9M1022.5 584.3V598.6M1023.5 588.3V598.2M1024.5 589.4V599.9M1025.5 591.7V603.0M1026.5 593.9V611.0M1027.5 598.2V609.5M1028.5 598.1V608.1M1029.5 596.1V606.7M1030.5 589.0V603.2M1031.5 596.2V607.9M1032.5 601.0V613.0M1033.5 604.5V611.0M1034.5 603.6V609.0M1035.5 599.2V607.0M1036.5 592.0V604.6M1037.5 599.7V614.9M1038.5 606.9V617.8M1039.5 610.0V626.8M1040.5 613.2V620.1M1040.5 625.3V629.6M1041.5 618.6V629.4M1042.5 619.6V630.1M1043.5 621.8V631.0M1044.5 625.5V633.0M1045.5 629.2V652.0M1046.5 632.2V645.8M1047.5 636.7V649.0M1048.5 636.3V647.0M1049.5 631.0V643.2M1050.5 629.6V644.3M1051.5 630.6V640.2M1052.5 628.9V639.2M1053.5 626.5V637.8M1054.5 626.2V638.1M1055.5 621.6V634.3M1056.5 616.4V633.1M1057.5 620.0V629.9M1058.5 613.7V626.6M1059.5 613.6V615.3M1059.5 619.6V622.2M1060.5 613.8V621.1M1061.5 611.8V618.6M1062.5 599.0V616.0M1063.5 600.1V623.7M1064.5 608.0V647.4M1065.5 632.5V660.3M1066.5 651.3V677.4M1067.5 674.8V706.8M1068.5 676.0V731.0M1069.5 681.8V714.7M1070.5 684.9V700.6M1071.5 672.8V690.9M1072.5 669.8V685.2M1073.5 670.2V682.3M1074.5 657.0V678.0M1075.5 661.4V674.3M1076.5 663.9V677.0M1077.5 663.7V674.7M1078.5 666.6V676.1M1079.5 671.7V689.8M1080.5 679.8V694.3M1081.5 682.0V689.0M1081.5 692.8V700.2M1082.5 687.5V705.4M1083.5 688.0V706.7M1084.5 693.9V695.4M1084.5 705.2V714.7M1085.5 692.9V729.0M1086.5 694.3V719.5M1087.5 690.5V711.3M1088.5 689.6V703.0M1089.5 681.4V694.7M1090.5 671.0V686.5M1091.5 664.0V679.1M1092.5 667.8V681.4M1093.5 667.0V681.5M1094.5 668.3V680.0M1095.5 668.3V678.4M1096.5 671.3V683.1M1097.5 669.0V682.3M1098.5 664.0V682.8M1099.5 673.9V690.0M1100.5 676.6V679.1M1100.5 686.0V687.5M1101.5 677.6V687.8M1102.5 672.0V688.2M1103.5 674.2V692.0M1104.5 673.1V694.0M1105.5 668.5V681.9M1106.5 664.2V678.2M1107.5 662.2V672.2M1108.5 656.1V666.7M1109.5 650.0V661.5M1110.5 639.9V653.6M1111.5 631.6V646.4M1112.5 599.5V633.0M1113.5 555.0V623.0M1114.5 568.6V593.8M1115.5 571.4V586.5M1116.5 563.8V581.8M1117.5 555.0V580.8M1118.5 556.8V570.3M1119.5 564.4V616.4M1120.5 612.7V660.0M1121.5 644.5V655.8M1122.5 644.5V656.6M1123.5 646.2V654.7M1124.5 644.8V653.6M1125.5 641.4V651.4M1126.5 641.7V648.9M1127.5 636.8V645.4M1128.5 632.6V642.7M1129.5 629.5V640.3M1130.5 622.8V637.9M1131.5 625.1V636.8M1132.5 619.7V630.3M1133.5 618.7V630.0M1134.5 617.0V635.1M1135.5 624.0V634.7M1136.5 629.3V645.0M1137.5 633.9V643.0M1138.5 638.2V645.0M1139.5 630.0V643.6M1140.5 632.9V645.7M1141.5 640.0V655.0M1142.5 639.7V650.1M1143.5 637.0V644.1M1144.5 627.7V638.1M1145.5 618.3V631.2M1146.5 611.0V626.1M1147.5 619.1V636.6M1148.5 626.1V638.3M1149.5 633.9V648.2M1150.5 641.3V653.4M1151.5 646.7V655.0M1152.5 652.5V666.0M1153.5 657.5V670.0M1154.5 663.8V672.6M1155.5 660.0V668.2M1156.5 660.0V675.0M1157.5 662.8V672.7M1158.5 661.3V675.0M1159.5 662.0V675.0M1160.5 660.3V669.0M1161.5 660.8V668.7M1162.5 657.0V668.0M1163.5 660.8V662.3M1163.5 666.1V668.0M1164.5 660.2V667.6M1165.5 656.4V668.0M1166.5 655.0V662.5M1167.5 656.2V663.1M1168.5 650.7V659.9M1169.5 649.5V656.4M1170.5 649.0V657.5M1171.5 655.2V667.3M1172.5 662.5V677.0M1173.5 662.0V671.5M1174.5 662.0V669.8M1175.5 662.0V670.6M1176.5 661.7V670.8M1177.5 662.5V674.3M1178.5 659.8V666.8M1179.5 662.1V673.1M1180.5 657.0V670.4M1181.5 663.7V673.4M1182.5 667.2V681.0M1183.5 663.1V671.8M1184.5 660.1V666.2M1185.5 653.3V661.6M1186.5 643.0V657.0M1187.5 649.8V663.3M1188.5 659.9V674.1M1189.5 670.3V676.3M1190.5 675.1V690.0M1191.5 680.5V688.2M1192.5 679.9V686.8M1193.5 677.0V684.2M1194.5 671.0V680.1M1195.5 673.9V683.5M1196.5 679.8V699.2M1197.5 690.4V702.6M1198.5 697.2V704.0M1199.5 700.7V707.4M1200.5 703.8V713.8M1201.5 709.3V721.0M1202.5 710.2V721.0M1203.5 712.6V721.0M1204.5 702.6V717.2M1205.5 688.1V708.1M1206.5 674.0V692.8M1207.5 678.9V690.9M1208.5 684.1V696.0M1209.5 685.7V696.0M1210.5 685.2V692.4M1211.5 684.5V691.8M1212.5 683.0V691.2M1213.5 684.4V695.1M1214.5 685.0V698.6M1215.5 689.6V698.1M1216.5 692.3V700.7M1217.5 688.3V697.9M1218.5 684.0V700.2M1219.5 686.9V700.8M1220.5 691.9V706.0M1221.5 687.0V700.9M1222.5 685.0V694.3M1223.5 689.4V699.6M1224.5 695.2V705.7M1225.5 701.2V711.3M1226.5 705.5V716.0M1227.5 703.2V710.8M1228.5 705.0V708.9M1229.5 700.8V706.7M1230.5 698.0V703.8M1231.5 698.8V704.9M1232.5 697.7V704.1M1233.5 695.8V704.7M1234.5 693.7V702.3M1235.5 691.0V699.5M1236.5 695.0V702.5M1237.5 699.9V707.4M1238.5 702.4V707.6M1239.5 705.2V713.5M1240.5 709.1V715.9M1241.5 712.6V719.3M1242.5 716.6V732.0M1243.5 721.8V729.4M1244.5 722.2V726.4M1245.5 713.7V723.4M1246.5 710.6V717.1M1247.5 704.0V712.4M1248.5 704.4V713.0M1249.5 705.0V719.0M1250.5 709.0V715.7M1251.5 706.2V712.9M1252.5 707.9V720.0M1253.5 708.0V713.9" stroke="#21134e" stroke-width="1" fill="none"/><path d="M447.6 404.5L539.7 559M416.2 553L522.4 645M942 511.4L1254 592M896.2 635.9L1186.9 796.2" stroke="#000" stroke-width="1.2" fill="none"/><path d="M336.5 264L356 194M339 346.4L356.5 262M308.9 315.7L315.5 431.7L308.4 392.5M279.4 412L280.3 436L281 412L283.3 425" stroke="#000" stroke-width="1" fill="none"/><path d="M1138 597.6L1173 652M1115.5 659L1167 682.4" stroke="#f23645" stroke-width="1.2" fill="none"/><path d="M1222.5 684L1227.7 703.6M1216.2 705.3L1227 715.6" stroke="#f23645" stroke-width="1.2" fill="none"/><path d="M444.8 455.5L446.5 500M451 464L460.3 430.7L455 493.4M413 440L415 480" stroke="#f23645" stroke-width="1.2" fill="none"/><path d="M827.5 493L835 552M822 524L834 553M837 535L847.8 528.6M840.7 560.6L851.6 567M752 611L768 604L765 572M987 601.5L997.4 607.5M985.2 638.2L997.4 624.4M959.2 619.4L963.6 616.2M967.3 629.7L972 621.2M1068.5 694.5L1076.4 647.5M1120.8 652.7L1133.9 619M1123 660L1134 645M695.5 450L700.5 495M67.5 659L78.8 648M70.5 688L78.8 670.6M587.7 622.3L595 593M591.8 582.5L595 591M609.6 639L616 593" stroke="#000" stroke-width="1" fill="none"/><path d="M779.5 540L779.5 569M945.5 564L947.2 582.7M1018 580L1021.6 584.5M1018 595L1021.6 598M1049 630L1052 622M1049 642L1051 636" stroke="#f23645" stroke-width="1.3" fill="none"/><path d="M645.5 510L650 495L648.8 535M724.5 558L728 587M1058 612L1061 620M1172 662L1176 680M1178 662L1180 678" stroke="#00bcd4" stroke-width="1.2" fill="none"/><path d="M738 612L742 572M1127 628L1131 618" stroke="#7e57c2" stroke-width="1.2" fill="none"/><path d="M1119.5 636L1119.5 656" stroke="#ff9800" stroke-width="1.5" fill="none"/></g><g clip-path="url(#pane)"><text transform="translate(291.3 111.9) scale(1.08 1)" font-size="18" font-weight="normal" text-anchor="middle" fill="#0000ff" stroke="#0000ff" stroke-width="0.15" font-family="'Liberation Sans','Noto Sans CJK SC',sans-serif">I或a</text><circle cx="290.6" cy="132.2" r="10.8" fill="none" stroke="#000" stroke-width="1.1"/><text transform="translate(290.6 137.8) scale(0.8 1)" font-size="18" font-weight="bold" text-anchor="middle" fill="#000" font-family="'Liberation Sans','Noto Sans CJK SC',sans-serif">5</text><text transform="translate(359.4 187.2) scale(1.0 1)" font-size="17.5" font-weight="normal" text-anchor="middle" fill="#ff00ff" font-family="'Liberation Sans','Noto Sans CJK SC',sans-serif">(B)</text><text transform="translate(315.1 458.9) scale(1.0 1)" font-size="17.5" font-weight="normal" text-anchor="middle" fill="#ff00ff" font-family="'Liberation Sans','Noto Sans CJK SC',sans-serif">(A)</text><circle cx="120.5" cy="542.4" r="10.8" fill="none" stroke="#000" stroke-width="1.1"/><text transform="translate(120.5 548.0) scale(0.8 1)" font-size="18" font-weight="bold" text-anchor="middle" fill="#000" font-family="'Liberation Sans','Noto Sans CJK SC',sans-serif">3</text><text transform="translate(157.0 686.0) scale(1.0 1)" font-size="17.5" font-weight="normal" text-anchor="middle" fill="#ff00ff" font-family="'Liberation Sans','Noto Sans CJK SC',sans-serif">(A)</text><text transform="translate(198.5 483.5) scale(1.0 1)" font-size="17.5" font-weight="normal" text-anchor="middle" fill="#ff00ff" font-family="'Liberation Sans','Noto Sans CJK SC',sans-serif">(B)</text><text transform="translate(227.0 683.8) scale(1.0 1)" font-size="17.5" font-weight="normal" text-anchor="middle" fill="#ff00ff" font-family="'Liberation Sans','Noto Sans CJK SC',sans-serif">(C)</text><circle cx="228.5" cy="714" r="10.8" fill="none" stroke="#000" stroke-width="1.1"/><text transform="translate(228.5 719.6) scale(0.8 1)" font-size="18" font-weight="bold" text-anchor="middle" fill="#000" font-family="'Liberation Sans','Noto Sans CJK SC',sans-serif">4</text><text transform="translate(566.8 498.5) scale(1.0 1)" font-size="17.5" font-weight="normal" text-anchor="middle" fill="#ff00ff" font-family="'Liberation Sans','Noto Sans CJK SC',sans-serif">(A)</text><text transform="translate(550.9 678.7) scale(1.0 1)" font-size="17.5" font-weight="normal" text-anchor="middle" fill="#ff00ff" font-family="'Liberation Sans','Noto Sans CJK SC',sans-serif">(C)</text><text transform="translate(584.0 676.5) scale(1.0 1)" font-size="17.5" font-weight="normal" text-anchor="middle" fill="#ff00ff" font-family="'Liberation Sans','Noto Sans CJK SC',sans-serif">(B)</text><circle cx="554.5" cy="693.4" r="10.8" fill="none" stroke="#000" stroke-width="1.1"/><text transform="translate(554.5 698.7) scale(0.8 1)" font-size="17" font-weight="normal" text-anchor="middle" fill="#000" font-family="'Liberation Sans','Noto Sans CJK SC',sans-serif">W</text><circle cx="685.5" cy="384.2" r="10.8" fill="none" stroke="#000" stroke-width="1.1"/><text transform="translate(685.5 389.5) scale(0.9 1)" font-size="17" font-weight="normal" text-anchor="middle" fill="#000" font-family="'Liberation Sans','Noto Sans CJK SC',sans-serif">X</text><text transform="translate(685.1 411.4) scale(1.0 1)" font-size="17.5" font-weight="normal" text-anchor="middle" fill="#ff00ff" font-family="'Liberation Sans','Noto Sans CJK SC',sans-serif">(C)</text><text transform="translate(820.1 476.5) scale(1.0 1)" font-size="17.5" font-weight="normal" text-anchor="middle" fill="#ff00ff" font-family="'Liberation Sans','Noto Sans CJK SC',sans-serif">(B)</text><circle cx="874.4" cy="481" r="10.8" fill="none" stroke="#ff9800" stroke-width="1.1"/><text transform="translate(874.4 486.3) scale(0.9 1)" font-size="17" font-weight="normal" text-anchor="middle" fill="#ff9800" font-family="'Liberation Sans','Noto Sans CJK SC',sans-serif">X</text><text transform="translate(736.7 654.8) scale(1.0 1)" font-size="17.5" font-weight="normal" text-anchor="middle" fill="#ff00ff" font-family="'Liberation Sans','Noto Sans CJK SC',sans-serif">(A)</text><text transform="translate(924.3 667.3) scale(0.88 1)" font-size="18" font-weight="normal" text-anchor="middle" fill="#0000ff" stroke="#0000ff" stroke-width="0.55" font-family="'Liberation Sans','Noto Sans CJK SC',sans-serif">1</text><text transform="translate(1011.5 521.6) scale(0.88 1)" font-size="18" font-weight="normal" text-anchor="middle" fill="#0000ff" stroke="#0000ff" stroke-width="0.55" font-family="'Liberation Sans','Noto Sans CJK SC',sans-serif">2</text><text transform="translate(1067.0 753.3) scale(0.88 1)" font-size="18" font-weight="normal" text-anchor="middle" fill="#0000ff" stroke="#0000ff" stroke-width="0.55" font-family="'Liberation Sans','Noto Sans CJK SC',sans-serif">3</text><text transform="translate(1115.5 550.1) scale(0.88 1)" font-size="18" font-weight="normal" text-anchor="middle" fill="#0000ff" stroke="#0000ff" stroke-width="0.55" font-family="'Liberation Sans','Noto Sans CJK SC',sans-serif">4</text><text transform="translate(1258.3 796.1) scale(0.88 1)" font-size="18" font-weight="normal" text-anchor="middle" fill="#0000ff" stroke="#0000ff" stroke-width="0.55" font-family="'Liberation Sans','Noto Sans CJK SC',sans-serif">5</text><text transform="translate(1259.0 815.0) scale(1.0 1)" font-size="17.5" font-weight="normal" text-anchor="middle" fill="#ff00ff" font-family="'Liberation Sans','Noto Sans CJK SC',sans-serif">(C)</text><text transform="translate(1292.8 816.9) scale(1.0 1)" font-size="17.5" font-weight="normal" text-anchor="middle" fill="#ff9800" font-family="'Liberation Sans','Noto Sans CJK SC',sans-serif">(A)</text><circle cx="1261.5" cy="830.2" r="10.8" fill="none" stroke="#222" stroke-width="1.1"/><text transform="translate(1261.5 835.5) scale(0.9 1)" font-size="17" font-weight="normal" text-anchor="middle" fill="#000" stroke="#000" stroke-width="0.5" font-family="'Liberation Sans','Noto Sans CJK SC',sans-serif">Y</text><text transform="translate(1265.0 851.7) scale(1.1 1)" font-size="18" font-weight="normal" text-anchor="middle" fill="#0000ff" stroke="#0000ff" stroke-width="0.15" font-family="'Liberation Sans','Noto Sans CJK SC',sans-serif">II或b</text><text transform="translate(1366.1 628.9) scale(1.0 1)" font-size="17.5" font-weight="normal" text-anchor="middle" fill="#ff9800" font-family="'Liberation Sans','Noto Sans CJK SC',sans-serif">(B)</text><text transform="translate(1438.0 850.1) scale(1.1 1)" font-size="18" font-weight="normal" text-anchor="middle" fill="#10107e" stroke="#10107e" stroke-width="0.3" font-family="'Liberation Sans','Noto Sans CJK SC',sans-serif">ewc.space</text></g><path d="M1536 546h44a2 2 0 0 1 2 2v13a2 2 0 0 1 -2 2h-44z" fill="#00bcd4"/><text x="1544" y="559" font-size="11" fill="#000" font-family="'Liberation Sans','Noto Sans CJK SC',sans-serif">77.644</text><path d="M1536 707h44a2 2 0 0 1 2 2v13a2 2 0 0 1 -2 2h-44z" fill="#21134e"/><text x="1544" y="720" font-size="11" fill="#fff" font-family="'Liberation Sans','Noto Sans CJK SC',sans-serif">57.287</text><g fill="#0f0f0f"><path d="M12 919h11.8v14.7h-5.8v-9.2h-6z"/><circle cx="29" cy="921.9" r="2.8"/><path d="M34.9 919h6.8l-5.6 14.7h-6.9z"/></g><text x="49.3" y="934" font-size="21" font-weight="bold" fill="#0f0f0f" textLength="120.5" lengthAdjust="spacingAndGlyphs" font-family="'Liberation Sans','Noto Sans CJK SC',sans-serif">TradingView</text></svg></body></html>
